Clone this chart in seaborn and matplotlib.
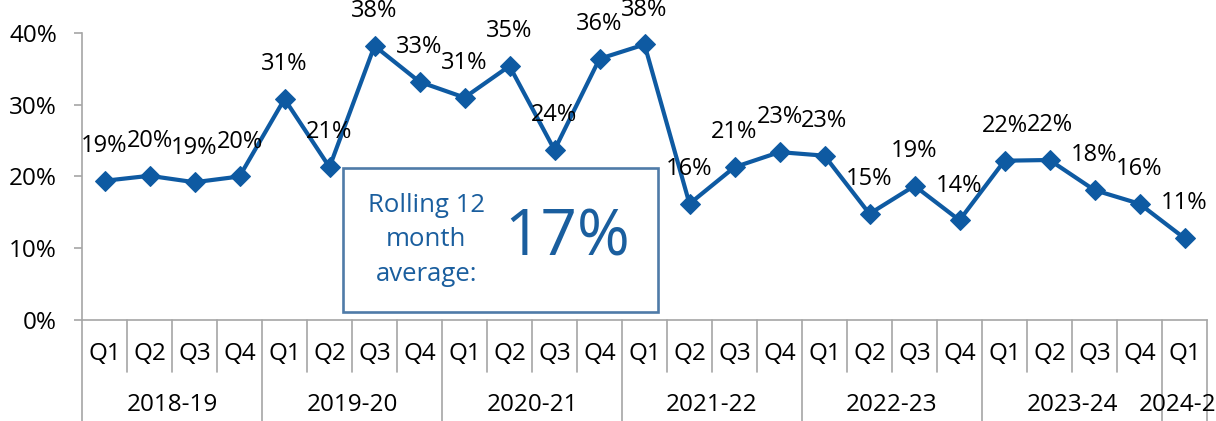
import matplotlib
matplotlib.use("Agg")
import matplotlib.pyplot as plt
import matplotlib.transforms as mtransforms
from matplotlib.patches import Rectangle
import numpy as np
import pandas as pd
import seaborn as sns

# Quarterly rate by financial year
years = ["2018-19", "2019-20", "2020-21", "2021-22", "2022-23", "2023-24", "2024-25"]
quarters_per_year = [4, 4, 4, 4, 4, 4, 1]
quarter_names = ["Q1", "Q2", "Q3", "Q4"]
values = [0.194, 0.201, 0.192, 0.200,
          0.308, 0.213, 0.382, 0.332,
          0.310, 0.354, 0.237, 0.364,
          0.384, 0.162, 0.213, 0.234,
          0.229, 0.148, 0.187, 0.139,
          0.222, 0.223, 0.181, 0.162,
          0.114]
rolling_average = 0.17
y_ticks = [0.0, 0.1, 0.2, 0.3, 0.4]

quarter_labels = [quarter_names[q] for n in quarters_per_year for q in range(n)]
year_of_point = [y for y, n in zip(years, quarters_per_year) for _ in range(n)]
df = pd.DataFrame({"idx": np.arange(len(values)), "value": values,
                   "quarter": quarter_labels, "year": year_of_point})

LINE_BLUE = "#0E5AA2"
TEXT_BLUE = "#1A5E9E"
BOX_EDGE = "#4F7BA8"
AXIS_GREY = "#A6A6A6"
FS = 17.5

sns.set_theme(style="white")
plt.rcParams["font.family"] = ["Open Sans", "DejaVu Sans"]

fig = plt.figure(figsize=(12.16, 4.21), dpi=100)
ax = fig.add_axes([82 / 1216, 101 / 421, 1125 / 1216, 287 / 421])

sns.lineplot(data=df, x="idx", y="value", ax=ax, color=LINE_BLUE,
             linewidth=3.0, marker="D", markersize=10.5,
             markeredgecolor=LINE_BLUE, markerfacecolor=LINE_BLUE, zorder=3)

# Value labels above each point
for i, v in enumerate(values):
    ax.annotate(f"{round(v * 100):.0f}%", (i, v), xytext=(0, 25),
                textcoords="offset points", ha="center", va="center",
                fontsize=17, color="black", zorder=4)

ax.set_xlim(-0.5, len(values) - 0.5)
ax.set_ylim(0, 0.4)
ax.set_yticks(y_ticks)
ax.set_yticklabels([f"{t * 100:.0f}%" for t in y_ticks])
ax.tick_params(axis="y", which="major", left=True, length=6, width=1.2,
               color=AXIS_GREY, pad=12, labelsize=FS, labelcolor="black")
ax.set_xticks([])
ax.set_xlabel("")
ax.set_ylabel("")
ax.grid(False)
for side in ["top", "right"]:
    ax.spines[side].set_visible(False)
for side in ["left", "bottom"]:
    ax.spines[side].set_color(AXIS_GREY)
    ax.spines[side].set_linewidth(1.2)

# Two-level category axis: quarters and financial years
trans = mtransforms.blended_transform_factory(ax.transData, ax.transAxes)
q_bottom = -0.181
y_bottom = -0.36
year_edges = np.concatenate([[0], np.cumsum(quarters_per_year)]) - 0.5
for k in range(len(values) + 1):
    edge = k - 0.5
    bottom = y_bottom if np.any(np.isclose(year_edges, edge)) else q_bottom
    ax.plot([edge, edge], [0, bottom], transform=trans, color=AXIS_GREY,
            linewidth=1.2, clip_on=False)
for i, q in enumerate(quarter_labels):
    ax.text(i, -0.118, q, transform=trans, ha="center", va="center",
            fontsize=FS, color="black")
for y, a, b in zip(years, year_edges[:-1], year_edges[1:]):
    ax.text((a + b) / 2, -0.296, y, transform=trans, ha="center",
            va="center", fontsize=FS, color="black")

# Rolling average callout box
box = Rectangle((0.232, 0.028), 0.280, 0.502, transform=ax.transAxes,
                facecolor="white", edgecolor=BOX_EDGE, linewidth=1.9,
                zorder=5)
ax.add_patch(box)
ax.text(0.306, 0.279, "Rolling 12\nmonth\naverage:", transform=ax.transAxes,
        ha="center", va="center", fontsize=18.5, color=TEXT_BLUE,
        linespacing=1.5, zorder=6)
ax.text(0.431, 0.285, f"{rolling_average * 100:.0f}%", transform=ax.transAxes,
        ha="center", va="center", fontsize=46, color=TEXT_BLUE, zorder=6)

fig.savefig("out.png", dpi=100)
